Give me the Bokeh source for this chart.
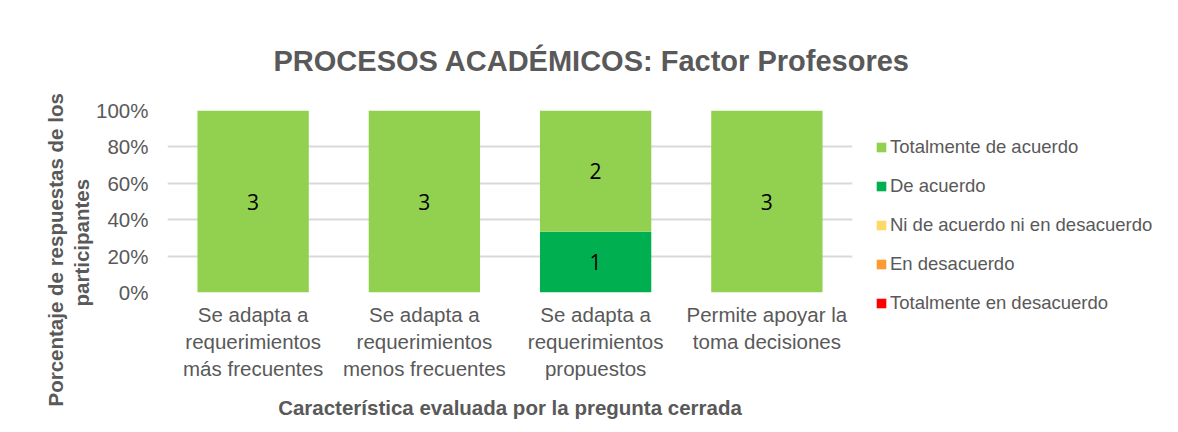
from bokeh.plotting import figure
from bokeh.models import (Range1d, Legend, LegendItem, Title,
                          ColumnDataSource, NumeralTickFormatter, FixedTicker,
                          LinearAxis)
from bokeh.core.properties import value
from bokeh.embed import file_html
from bokeh.resources import INLINE

# ---------------- data ----------------
categories = [
    "Se adapta a requerimientos más frecuentes",
    "Se adapta a requerimientos menos frecuentes",
    "Se adapta a requerimientos propuestos",
    "Permite apoyar la toma decisiones",
]
tick_label_line1 = ["Se adapta a", "Se adapta a", "Se adapta a", "Permite apoyar la"]
tick_label_line2 = ["requerimientos", "requerimientos", "requerimientos", "toma decisiones"]
tick_label_line3 = ["más frecuentes", "menos frecuentes", "propuestos", ""]

totalmente_en_desacuerdo = [0, 0, 0, 0]
en_desacuerdo = [0, 0, 0, 0]
ni_de_acuerdo_ni_en_desacuerdo = [0, 0, 0, 0]
de_acuerdo = [0, 0, 1, 0]
totalmente_de_acuerdo = [3, 3, 2, 3]

series_names = ["Totalmente en desacuerdo", "En desacuerdo",
                "Ni de acuerdo ni en desacuerdo", "De acuerdo",
                "Totalmente de acuerdo"]
series_values = [totalmente_en_desacuerdo, en_desacuerdo,
                 ni_de_acuerdo_ni_en_desacuerdo, de_acuerdo,
                 totalmente_de_acuerdo]
series_colors = ["#FF0000", "#FF9933", "#FFD966", "#00B050", "#92D050"]
y_ticks = [0, 0.2, 0.4, 0.6, 0.8, 1.0]

title_text = "PROCESOS ACADÉMICOS: Factor Profesores"
y_title_line1 = "Porcentaje de respuestas de los"
y_title_line2 = "participantes"
x_title = "Característica evaluada por la pregunta cerrada"

GREY = "#595959"
FONT = "Liberation Sans"

# ---------------- derived (100% stacking) ----------------
xpos = list(range(len(categories)))
totals = [sum(s[j] for s in series_values) for j in xpos]
keys = ["s%d" % i for i in range(len(series_values))]
data = {"x": xpos}
for k, s in zip(keys, series_values):
    data[k] = [v / t for v, t in zip(s, totals)]
src = ColumnDataSource(data)

lx, ly, lt = [], [], []
for j in xpos:
    cum = 0.0
    for k, s in zip(keys, series_values):
        frac = data[k][j]
        if s[j] > 0:
            lx.append(j)
            ly.append(cum + frac / 2)
            lt.append(str(s[j]))
        cum += frac
lsrc = ColumnDataSource(dict(x=lx, y=ly, text=lt))

# ---------------- figure ----------------
ML, MT, FW, FH = 167, 110, 685, 182
MR, MB = 320, 138
p = figure(x_range=Range1d(-0.5, len(categories) - 0.5),
           y_range=Range1d(0, 1),
           frame_width=FW, frame_height=FH,
           min_border_left=ML, min_border_top=MT,
           min_border_right=MR, min_border_bottom=MB,
           output_backend="svg", toolbar_location=None)
p.outline_line_color = None
p.background_fill_color = "white"
p.border_fill_color = "white"

renderers = p.vbar_stack(keys, x="x", width=0.65, color=series_colors,
                         line_color=None, source=src)

p.text(x="x", y="y", text="text", source=lsrc, text_align="center",
       text_baseline="middle", text_font=value("Open Sans"),
       text_font_size="21px", text_color="black")


def style_axis(ax):
    ax.axis_line_color = None
    ax.major_tick_line_color = None
    ax.minor_tick_line_color = None
    ax.major_tick_out = 0
    ax.major_tick_in = 0
    ax.minor_tick_out = 0
    ax.minor_tick_in = 0
    ax.major_label_text_color = GREY
    ax.major_label_text_font = FONT
    ax.major_label_text_font_size = "20.5px"


yax = p.yaxis[0]
yax.ticker = FixedTicker(ticks=y_ticks)
yax.formatter = NumeralTickFormatter(format="0%")
style_axis(yax)
yax.major_label_standoff = 19

# x tick labels: one axis row per text line
xax1 = p.xaxis[0]
rows = [tick_label_line1, tick_label_line2, tick_label_line3]
axes = [xax1]
for _ in rows[1:]:
    ax = LinearAxis()
    p.add_layout(ax, "below")
    axes.append(ax)
for i, (ax, lines) in enumerate(zip(axes, rows)):
    style_axis(ax)
    ax.ticker = FixedTicker(ticks=xpos)
    ax.major_label_overrides = {float(j): t for j, t in zip(xpos, lines)}
    ax.major_label_standoff = 10 if i == 0 else 1
last = axes[-1]
last.axis_label = x_title
last.axis_label_standoff = 13
last.axis_label_text_font = FONT
last.axis_label_text_font_size = "20.5px"
last.axis_label_text_font_style = "bold"
last.axis_label_text_color = GREY

p.xgrid.grid_line_color = None
p.ygrid.grid_line_color = "#D9D9D9"
p.ygrid.grid_line_width = 2

# legend (right side panel)
items = [LegendItem(label=n, renderers=[r])
         for n, r in zip(series_names[::-1], renderers[::-1])]
legend = Legend(items=items, location=(23, -22), orientation="vertical",
                border_line_color=None, background_fill_alpha=0,
                padding=0, margin=0, glyph_width=12, glyph_height=12,
                label_standoff=3, label_height=21, spacing=17,
                label_text_font=FONT, label_text_font_size="18.5px",
                label_text_color=GREY)
p.add_layout(legend, "right")

# chart title
p.title.text = title_text
p.title.align = "left"
p.title.offset = 106
p.title.vertical_align = "middle"
p.title.standoff = 65
p.title.text_font = FONT
p.title.text_font_size = "29px"
p.title.text_font_style = "bold"
p.title.text_color = GREY

# y axis title (two lines, as side titles)
for txt, off, so in [(y_title_line2, -14, 0), (y_title_line1, -114, 2)]:
    t = Title(text=txt, align="left", offset=off, vertical_align="middle",
              standoff=so, text_font=FONT, text_font_size="20.5px",
              text_font_style="bold", text_color=GREY)
    p.add_layout(t, "left")

open("out.html", "w").write(file_html(p, INLINE))
